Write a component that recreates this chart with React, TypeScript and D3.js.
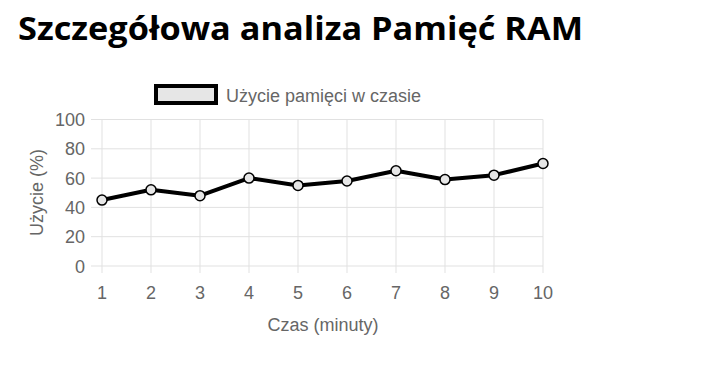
import React from "react";
import * as d3 from "d3";

const categories = [1, 2, 3, 4, 5, 6, 7, 8, 9, 10];
const usage = [45, 52, 48, 60, 55, 58, 65, 59, 62, 70];
const yTicks = [0, 20, 40, 60, 80, 100];
const titleText = "Szczegółowa analiza Pamięć RAM";
const legendLabel = "Użycie pamięci w czasie";
const xTitle = "Czas (minuty)";
const yTitle = "Użycie (%)";

export default function App() {
  const W = 724, H = 370;
  const x = d3.scaleLinear().domain([1, 10]).range([102, 543]);
  const y = d3.scaleLinear().domain([0, 100]).range([266, 119.5]);
  const line = d3.line<number>().x((_, i) => x(categories[i])).y((d) => y(d));
  const grid = "#e1e1e1";
  const tickColor = "#666";
  const font = "Liberation Sans, Arial, sans-serif";
  return (
    <svg width={W} height={H} style={{ position: "absolute", left: 0, top: 0 }}>
      <text x={18} y={40} fontFamily="Open Sans, sans-serif" fontWeight={700} fontSize={32} textLength={565} lengthAdjust="spacingAndGlyphs" fill="#000">{titleText}</text>
      {/* legend */}
      <rect x={156} y={86} width={60} height={17} fill="#e6e6e6" stroke="#000" strokeWidth={4} />
      <text x={226} y={101.5} fontFamily={font} fontSize={18} fill={tickColor}>{legendLabel}</text>
      {/* grid */}
      {yTicks.map((t) => (
        <line key={"y" + t} x1={91} x2={543} y1={y(t)} y2={y(t)} stroke={grid} strokeWidth={1} />
      ))}
      {categories.map((c) => (
        <line key={"x" + c} x1={x(c)} x2={x(c)} y1={119.5} y2={273} stroke={grid} strokeWidth={1} />
      ))}
      {yTicks.map((t) => (
        <text key={"yl" + t} x={85} y={y(t) + 6.5} textAnchor="end" fontFamily={font} fontSize={18} fill={tickColor}>{t}</text>
      ))}
      {categories.map((c) => (
        <text key={"xl" + c} x={x(c)} y={298.5} textAnchor="middle" fontFamily={font} fontSize={18} fill={tickColor}>{c}</text>
      ))}
      <text x={323} y={330.5} textAnchor="middle" fontFamily={font} fontSize={18} fill={tickColor}>{xTitle}</text>
      <text transform={`translate(43,192.5) rotate(-90)`} textAnchor="middle" fontFamily={font} fontSize={18} fill={tickColor}>{yTitle}</text>
      <path d={line(usage) || ""} fill="none" stroke="#000" strokeWidth={4} strokeLinejoin="round" />
      {usage.map((v, i) => (
        <circle key={i} cx={x(categories[i])} cy={y(v)} r={5} fill="#e6e6e6" stroke="#000" strokeWidth={1.5} />
      ))}
    </svg>
  );
}
